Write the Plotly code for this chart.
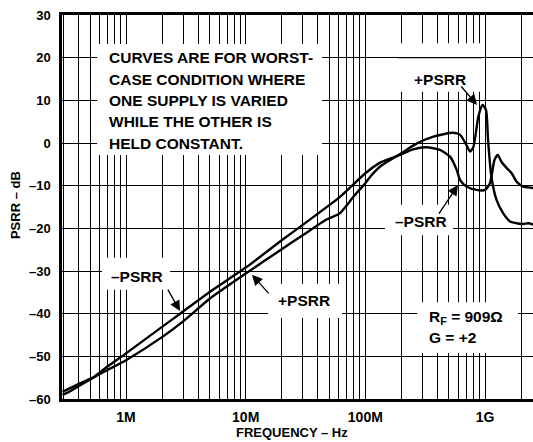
import plotly.graph_objects as go

# frequency (Hz) and PSRR (dB)
freq_minus = [2.95e5, 3.3e5, 4e5, 5.3e5, 7e5, 1e6, 2e6, 2.83e6, 5e6, 1e7, 2e7, 3.2e7,
              6.1e7, 1e8, 1.33e8, 1.95e8, 2.5e8, 3.25e8, 4.2e8, 5.1e8, 5.8e8, 6.2e8,
              7e8, 8.5e8, 1e9, 1.1e9, 1.2e9, 1.28e9, 1.37e9, 1.52e9, 1.67e9, 1.84e9,
              2.09e9, 2.3e9, 2.6e9]
psrr_minus = [-59.0, -58.4, -57.0, -55.0, -52.4, -49.3, -43.1, -40.0, -34.9, -29.2, -22.8, -18.6,
              -12.7, -7.1, -4.6, -2.8, -1.5, -1.0, -1.6, -3.2, -6.3, -8.7,
              -10.2, -11.0, -11.0, -9.4, -4.0, -2.8, -4.4, -5.9, -7.1, -9.1,
              -10.2, -10.4, -10.6]

freq_plus = [2.95e5, 4e5, 5.3e5, 7e5, 1e6, 2e6, 3e6, 5e6, 1e7, 2e7, 3e7, 4.7e7, 6.1e7,
             8e7, 1e8, 1.13e8, 1.33e8, 1.95e8, 2.7e8, 3.7e8, 5.4e8, 6.2e8, 7e8, 7.5e8,
             8e8, 8.8e8, 9.55e8, 1.02e9, 1.06e9, 1.13e9, 1.25e9, 1.42e9, 1.62e9, 1.84e9,
             2.09e9, 2.3e9, 2.6e9]
psrr_plus = [-58.3, -56.5, -55.0, -53.2, -50.9, -45.5, -41.8, -36.5, -30.6, -24.9, -21.6, -18.0, -16.5,
             -12.5, -9.4, -7.5, -5.5, -2.6, -0.1, 1.5, 2.4, 1.9, -0.5, -2.0,
             -0.9, 6.2, 8.9, 7.7, 0.7, -7.9, -13.4, -16.5, -18.4, -18.8,
             -19.0, -18.8, -19.2]

y_ticks = [-60, -50, -40, -30, -20, -10, 0, 10, 20, 30]
x_major = {1e6: "1M", 1e7: "10M", 1e8: "100M", 1e9: "1G"}

note_lines = ["CURVES ARE FOR WORST-", "CASE CONDITION WHERE", "ONE SUPPLY IS VARIED",
              "WHILE THE OTHER IS", "HELD CONSTANT."]

FONT = "Liberation Sans, Arial, sans-serif"

x_grid = []
for dec in [1e5, 1e6, 1e7, 1e8, 1e9]:
    for k in range(1, 10):
        x_grid.append(k * dec)
x_text = [x_major.get(v, "") for v in x_grid]

fig = go.Figure()
for f, p in [(freq_minus, psrr_minus), (freq_plus, psrr_plus)]:
    fig.add_trace(go.Scatter(x=f, y=p, mode="lines", line=dict(color="black", width=2.4),
                             line_shape="spline", line_smoothing=0.6,
                             hoverinfo="skip", showlegend=False))


def lx(v):
    return 10 ** v


# white boxes that hide the grid under the labels
boxes = [(5.758, 7.638, -2.8, 23.2), (8.273, 8.975, 12.0, 23.4), (8.164, 8.733, -21.6, -14.5),
         (5.80, 6.368, -34.4, -26.9), (7.187, 7.805, -41.0, -33.0), (8.432, 9.276, -49.2, -37.3)]
shapes = []
for x0, x1, y0, y1 in boxes:
    shapes.append(dict(type="rect", xref="x", yref="y", x0=lx(x0), x1=lx(x1), y0=y0, y1=y1,
                       fillcolor="white", line=dict(width=0), layer="between"))
shapes.append(dict(type="line", xref="x", yref="y", x0=lx(8.273), x1=lx(8.975), y0=20, y1=20,
                   line=dict(color="black", width=1.3), layer="between"))

annots = []
tf = dict(family=FONT, size=15.5, color="black", weight="bold")
for i, t in enumerate(note_lines):
    annots.append(dict(x=5.841, y=20 - 5 * i, text=t, showarrow=False, xanchor="left",
                       yanchor="middle", font=tf))

labels = [("+PSRR", 8.624, 15.0, 8.933, 8.9, -17, -20),
          ("–PSRR", 8.465, -18.3, 8.774, -9.85, -20, 30),
          ("–PSRR", 6.092, -31.2, 6.451, -39.4, -13, -23),
          ("+PSRR", 7.487, -37.0, 7.053, -30.9, 18, 20)]
for t, x, y, hx, hy, ax, ay in labels:
    annots.append(dict(x=x, y=y, text=t, showarrow=False, font=tf))
    annots.append(dict(x=hx, y=hy, text="", showarrow=True, ax=ax, ay=ay, arrowhead=2,
                       arrowsize=1.6, arrowwidth=1.3, arrowcolor="black"))

annots.append(dict(x=8.515, y=-40.8, text="R<sub>F</sub> = 909Ω", showarrow=False,
                   xanchor="left", font=tf))
annots.append(dict(x=8.515, y=-45.7, text="G = +2", showarrow=False, xanchor="left", font=tf))

annots.append(dict(xref="paper", yref="paper", x=0.488, y=-0.0885, text="FREQUENCY – Hz",
                   xanchor="center", yanchor="middle", showarrow=False,
                   font=dict(family=FONT, size=13, color="black", weight="bold")))
annots.append(dict(xref="paper", yref="paper", x=-0.0998, y=0.505, text="PSRR – dB",
                   xanchor="center", yanchor="middle", textangle=-90, showarrow=False,
                   font=dict(family=FONT, size=13, color="black", weight="bold")))

fig.update_layout(
    width=533, height=442,
    margin=dict(l=62, r=0, t=15, b=43, autoexpand=False),
    paper_bgcolor="white", plot_bgcolor="white",
    shapes=shapes, annotations=annots,
    xaxis=dict(type="log", range=[5.465, 9.401], tickvals=x_grid, ticktext=x_text,
               showgrid=True, gridcolor="black", gridwidth=1.3, zeroline=False,
               showline=True, linecolor="black", linewidth=2.5, mirror=True,
               ticks="", ticklabelstandoff=3, automargin=False,
               tickfont=dict(family=FONT, size=14, color="black", weight="bold")),
    yaxis=dict(range=[-60, 30], tickvals=y_ticks,
               ticktext=[str(v).replace("-", "–") for v in y_ticks],
               showgrid=True, gridcolor="black", gridwidth=1.3, zeroline=False,
               showline=True, linecolor="black", linewidth=2.5,
               ticks="", ticklabelstandoff=6, automargin=False,
               tickfont=dict(family=FONT, size=13, color="black", weight="bold")),
)

fig.write_html("out.html", config={"displayModeBar": False},
               post_script="document.body.style.margin='0';")
